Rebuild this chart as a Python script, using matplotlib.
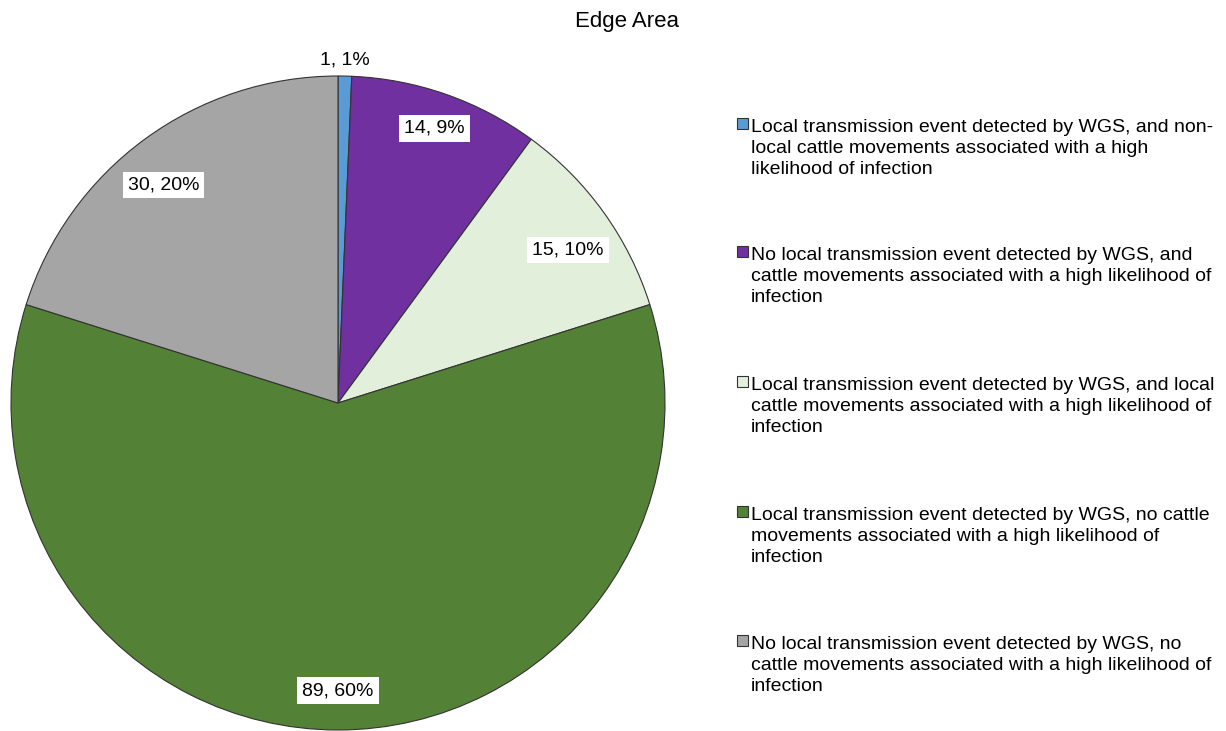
import matplotlib
matplotlib.use("Agg")
import numpy as np
import matplotlib.pyplot as plt
from matplotlib.patches import Rectangle

plt.rcParams["font.family"] = ["Liberation Sans", "DejaVu Sans"]

# Edge Area breakdown (counts per category)
categories = [
    "Local transmission event detected by WGS, and non-\nlocal cattle movements associated with a high\nlikelihood of infection",
    "No local transmission event detected by WGS, and\ncattle movements associated with a high likelihood of\ninfection",
    "Local transmission event detected by WGS, and local\ncattle movements associated with a high likelihood of\ninfection",
    "Local transmission event detected by WGS, no cattle\nmovements associated with a high likelihood of\ninfection",
    "No local transmission event detected by WGS, no\ncattle movements associated with a high likelihood of\ninfection",
]
counts = [1, 14, 15, 89, 30]
colors = ["#5B9BD5", "#7030A0", "#E2EFDA", "#538135", "#A5A5A5"]

# data label placement: radial distance (fraction of radius) and clockwise nudge (deg)
label_dist = [1.05, 0.89, 0.845, 0.88, 0.854]
label_nudge = [0, 0, 2.0, 0, -2.4]

W, H = 1226, 731
fig = plt.figure(figsize=(W / 100, H / 100), dpi=100)
ax = fig.add_axes([0, 0, 1, 1])

cx, cy, r = 338, H - 403, 327
wedges, _ = ax.pie(counts, colors=colors, startangle=90, counterclock=False,
                   center=(cx, cy), radius=r,
                   wedgeprops=dict(edgecolor="#333333", linewidth=0.8))
ax.set_xlim(0, W)
ax.set_ylim(0, H)
ax.set_aspect("equal")
ax.axis("off")

total = sum(counts)
for w, n, ld, nd in zip(wedges, counts, label_dist, label_nudge):
    ang = np.deg2rad((w.theta1 + w.theta2) / 2 - nd)
    txt = f"{n}, {round(100 * n / total)}%"
    x, y = cx + ld * r * np.cos(ang), cy + ld * r * np.sin(ang)
    if ld > 1:
        ax.text(x, y, txt, ha="center", va="center", fontsize=14)
    else:
        ax.text(x, y, txt, ha="center", va="center", fontsize=14,
                bbox=dict(facecolor="white", edgecolor="none", pad=3.5))

ax.text(627, H - 22, "Edge Area", ha="center", va="center", fontsize=16)

# legend: square beside the first line of each wrapped label
baselines = [130, 258, 388, 518, 647]
line_h = 22
for c, lab, b in zip(colors, categories, baselines):
    ax.add_patch(Rectangle((737, H - b + 1), 11, 11, facecolor=c,
                           edgecolor="#333333", linewidth=0.8))
    last = b + line_h * lab.count("\n")
    ax.text(751, H - last, lab, ha="left", va="baseline", fontsize=14,
            linespacing=1.32)

fig.savefig("out.png", dpi=100)
